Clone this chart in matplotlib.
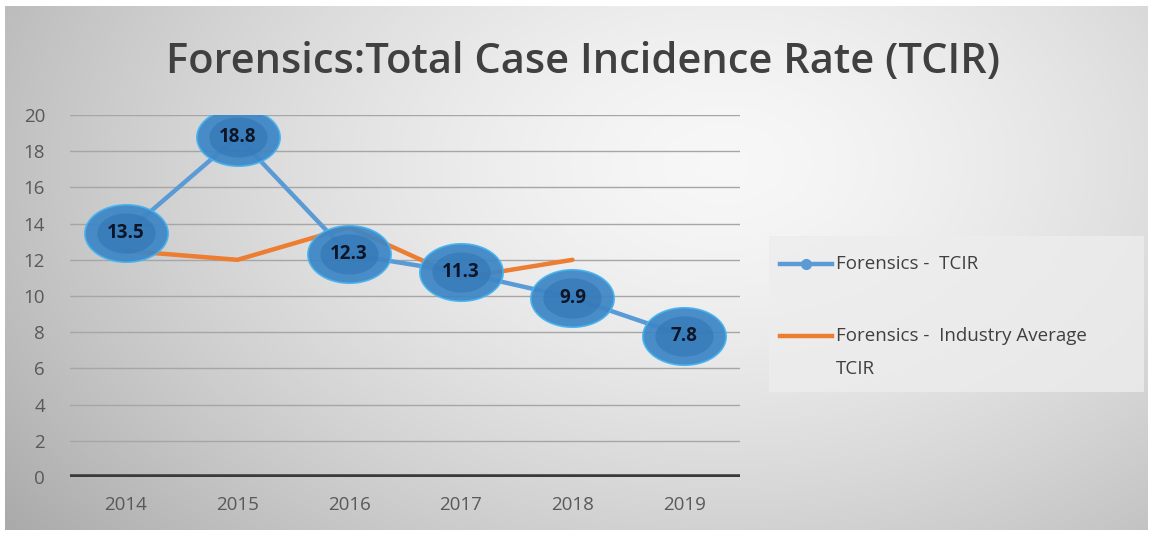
import matplotlib
matplotlib.use('Agg')
import matplotlib.pyplot as plt
import numpy as np
from matplotlib.path import Path

years = ['2014', '2015', '2016', '2017', '2018', '2019']
tcir = [13.5, 18.8, 12.3, 11.3, 9.9, 7.8]
industry = [12.5, 12.0, 13.8, 11.0, 12.0]
yticks = [0, 2, 4, 6, 8, 10, 12, 14, 16, 18, 20]

plt.rcParams['font.family'] = ['Open Sans', 'DejaVu Sans']

fig = plt.figure(figsize=(11.54, 5.37), dpi=100)
fig.patch.set_facecolor('white')

# gray gradient background
bg = fig.add_axes([0.004, 0.013, 0.99, 0.975])
gx, gy = np.meshgrid(np.linspace(0, 1, 400), np.linspace(0, 1, 200))
d = np.sqrt(((gx - 0.63) / 0.7) ** 2 + ((gy - 0.3) / 1.0) ** 2)
g = np.clip(0.97 - 0.25 * d ** 1.5, 0, 1)
bg.imshow(np.dstack([g, g, g]), aspect='auto', extent=[0, 1, 1, 0])
bg.set_axis_off()

ax = fig.add_axes([0.0607, 0.1117, 0.5805, 0.6741])
ax.set_facecolor('none')

x = np.arange(len(years))
ax.plot(x[:len(industry)], industry, color='#ed7d31', lw=3.2, solid_capstyle='round', zorder=3)
ax.plot(x, tcir, color='#5b9bd5', lw=3.2, zorder=4)

# ellipse marker
t = np.linspace(0, 2 * np.pi, 60)
ell = Path(np.column_stack([1.45 * np.cos(t), np.sin(t)]), closed=True)
ax.plot(x, tcir, ls='none', marker=ell, ms=60, mfc='#3d86c6', mec='#44b4f0', mew=1.2, alpha=0.93, zorder=5)
ax.plot(x, tcir, ls='none', marker=ell, ms=42, mfc='#2f72b2', mec='none', alpha=0.55, zorder=6)
for xi, v in zip(x, tcir):
    ax.text(xi, v, str(v), ha='center', va='center', fontsize=13.5, color='#0d1526',
            fontweight='bold', zorder=7)

ax.set_xlim(-0.5, len(years) - 0.5)
ax.set_ylim(0, 20)
ax.set_yticks(yticks)
ax.set_xticks(x)
ax.set_xticklabels(years)
ax.grid(axis='y', color='#a6a6a6', lw=1)
ax.set_axisbelow(True)
ax.axhline(0, color='#3a3a3a', lw=4, zorder=2)
for s in ax.spines.values():
    s.set_visible(False)
ax.tick_params(length=0, labelsize=13.5, labelcolor='#595959')
ax.tick_params(axis='y', pad=18)
ax.tick_params(axis='x', pad=14)

fig.text(0.505, 0.885, 'Forensics:Total Case Incidence Rate (TCIR)', ha='center', va='center',
         fontsize=30, fontweight='semibold', color='#404040')

# legend
lg = fig.add_axes([0.666, 0.27, 0.325, 0.29])
lg.set_xlim(0, 1)
lg.set_ylim(0, 1)
lg.add_patch(plt.Rectangle((0, 0), 1, 1, color='#ededed', alpha=0.8))
lg.set_axis_off()
lg.plot([0.03, 0.17], [0.82, 0.82], color='#5b9bd5', lw=3.2)
lg.plot([0.1], [0.82], marker='o', ms=7, color='#5b9bd5')
lg.plot([0.03, 0.17], [0.36, 0.36], color='#ed7d31', lw=3.2)
lg.text(0.18, 0.82, 'Forensics -  TCIR', va='center', fontsize=13.5, color='#404040')
lg.text(0.18, 0.36, 'Forensics -  Industry Average', va='center', fontsize=13.5, color='#404040')
lg.text(0.18, 0.15, 'TCIR', va='center', fontsize=13.5, color='#404040')

fig.savefig('out.png', dpi=100)
